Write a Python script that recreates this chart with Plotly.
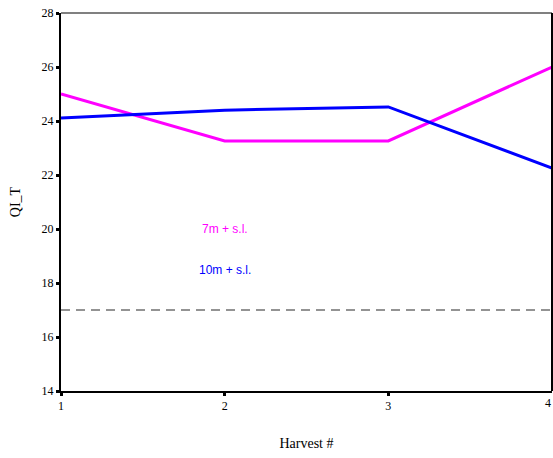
import plotly.graph_objects as go

harvest = [1, 2, 3, 4]
qi_7m = [25.0, 23.26, 23.26, 26.0]
qi_10m = [24.11, 24.4, 24.52, 22.26]
threshold = 17
y_ticks = [14, 16, 18, 20, 22, 24, 26, 28]

fig = go.Figure()
fig.add_trace(go.Scatter(x=harvest, y=qi_7m, mode="lines",
                         line=dict(color="#FF00FF", width=3), showlegend=False))
fig.add_trace(go.Scatter(x=harvest, y=qi_10m, mode="lines",
                         line=dict(color="#0000FF", width=3), showlegend=False))
fig.add_trace(go.Scatter(x=[harvest[0], harvest[-1]], y=[threshold, threshold], mode="lines",
                         line=dict(color="#707070", width=1.5, dash="9px,6px"), showlegend=False))

fig.add_annotation(x=2, y=20, text="7m + s.l.", showarrow=False,
                   font=dict(family="Liberation Sans, Arial", size=12, color="#FF00FF"))
fig.add_annotation(x=2, y=18.5, text="10m + s.l.", showarrow=False,
                   font=dict(family="Liberation Sans, Arial", size=12, color="#0000FF"))
# last x tick label at the page edge, kept fully visible
fig.add_annotation(x=harvest[-1], xref="x", y=0, yref="paper", text=str(harvest[-1]),
                   showarrow=False, yanchor="top", xanchor="right", xshift=1, yshift=-3,
                   font=dict(family="Liberation Serif, Times New Roman, serif", size=12, color="black"))

# frame: top gray, right black
fig.add_shape(type="line", xref="paper", yref="paper", x0=0, x1=1, y0=1, y1=1,
              line=dict(color="#808080", width=2))
fig.add_shape(type="line", xref="paper", yref="paper", x0=1, x1=1, y0=0, y1=1,
              line=dict(color="black", width=2))

fig.update_layout(
    width=553, height=458,
    margin=dict(l=61, r=1, t=13, b=67),
    plot_bgcolor="white", paper_bgcolor="white",
    font=dict(family="Liberation Serif, Times New Roman, serif", size=12, color="black"),
    xaxis=dict(range=[1, 4], tickvals=harvest[:-1], ticktext=[str(h) for h in harvest[:-1]],
               showgrid=False, zeroline=False, showline=True, linecolor="black", linewidth=2,
               ticks="outside", ticklen=3, tickwidth=3, tickcolor="black",
               title=dict(text="Harvest #", font=dict(size=14), standoff=26)),
    yaxis=dict(range=[14, 28], tickvals=y_ticks,
               showgrid=False, zeroline=False, showline=True, linecolor="black", linewidth=2,
               ticks="outside", ticklen=3, tickwidth=3, tickcolor="black",
               title=dict(text="QI_T", font=dict(size=14), standoff=18)),
)

fig.write_html("out.html")
